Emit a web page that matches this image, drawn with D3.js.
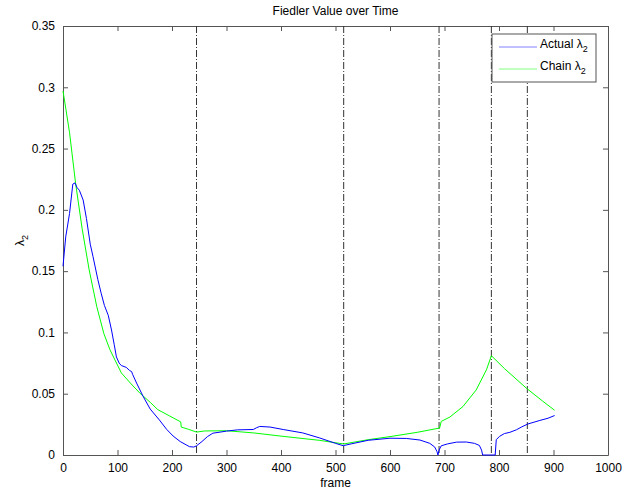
<!DOCTYPE html>
<html lang="en">
<head>
  <meta charset="UTF-8">
  <title>Fiedler Value over Time</title>
  <script src="https://d3js.org/d3.v7.min.js"></script>
  <style>
    body {
      margin: 0;
      background: #fff;
      font-family: "Liberation Sans", Arial, sans-serif;
    }
    svg text {
      font-size: 12px;
      fill: #000;
    }
  </style>
</head>
<body>
<div id="chart"></div>

<script>
  // Actual lambda_2 (blue)
  const actualFrames = [0, 5, 12, 18, 22, 26, 30, 37, 43, 50, 55, 64, 70, 76, 83, 89, 94, 98, 103, 107,
    116, 122, 126, 128, 135, 147, 160, 177, 190, 202, 215, 232, 240, 245, 255, 265, 275, 290, 300, 320,
    349, 355, 361, 380, 404, 440, 471, 500, 514, 530, 560, 600, 630, 655, 673, 682, 686, 688, 690, 694,
    705, 722, 740, 755, 764, 768, 770, 780, 793, 795, 801, 810, 820, 832, 842, 853, 875, 890, 902];
  const actualValues = [0.154, 0.178, 0.197, 0.221, 0.222, 0.218, 0.216, 0.208, 0.193, 0.172, 0.162, 0.143, 0.132, 0.122, 0.114, 0.102, 0.09, 0.08, 0.075, 0.073,
    0.0715, 0.069, 0.068, 0.0655, 0.0587, 0.0478, 0.0375, 0.0285, 0.021, 0.0155, 0.011, 0.0068, 0.0065, 0.0075, 0.011, 0.015, 0.0178, 0.0188, 0.0195, 0.0205,
    0.0208, 0.0222, 0.0233, 0.0228, 0.0208, 0.018, 0.0139, 0.0095, 0.0076, 0.0092, 0.012, 0.0137, 0.0135, 0.0122, 0.0095, 0.0065, 0.003, 0, 0.004, 0.0075,
    0.009, 0.0105, 0.0106, 0.0095, 0.0078, 0.004, 0, 0, 0, 0.0125, 0.0152, 0.0175, 0.0185, 0.0206, 0.023, 0.0253, 0.0282, 0.030, 0.0322];

  // Chain lambda_2 (green)
  const chainFrames = [0, 5, 12, 23, 35, 48, 62, 75, 86, 107, 125, 141, 160, 174, 195, 216, 217, 230, 245, 260,
    300, 350, 404, 470, 515, 560, 600, 650, 691, 694, 710, 734, 758, 777, 786, 810, 850, 880, 902];
  const chainValues = [0.297, 0.283, 0.263, 0.222, 0.185, 0.151, 0.121, 0.099, 0.086, 0.067, 0.058, 0.0505, 0.043, 0.037, 0.032, 0.027, 0.0228, 0.021, 0.0187, 0.0196,
    0.0198, 0.018, 0.0152, 0.012, 0.009, 0.0125, 0.015, 0.0185, 0.022, 0.0274, 0.031, 0.0396, 0.053, 0.0695, 0.081, 0.0705, 0.0546, 0.044, 0.0365];

  // dash-dot markers
  const eventFrames = [245, 515, 690, 786, 852];

  const xTicks = [0, 100, 200, 300, 400, 500, 600, 700, 800, 900, 1000];
  const yTicks = [0, 0.05, 0.1, 0.15, 0.2, 0.25, 0.3, 0.35];
  const yTickLabels = ["0", "0.05", "0.1", "0.15", "0.2", "0.25", "0.3", "0.35"];

  const margin = {top: 26, right: 26, bottom: 36, left: 63},
        width = 634 - margin.left - margin.right,
        height = 491 - margin.top - margin.bottom;

  const svg = d3.select("#chart")
                .append("svg")
                .attr("width", 634)
                .attr("height", 491)
                .append("g")
                .attr("transform", `translate(${margin.left},${margin.top})`);

  const x = d3.scaleLinear().domain([0, 1000]).range([0, width]);
  const y = d3.scaleLinear().domain([0, 0.35]).range([height, 0]);

  const axisColor = "#555";

  // axes with inward ticks on all four sides
  const xBottom = svg.append("g")
     .attr("transform", `translate(0,${height})`)
     .call(d3.axisBottom(x).tickValues(xTicks).tickSizeInner(-5).tickSizeOuter(0).tickPadding(8)
             .tickFormat(d3.format("d")));
  const xTop = svg.append("g")
     .call(d3.axisTop(x).tickValues(xTicks).tickSizeInner(-5).tickSizeOuter(0).tickFormat(""));
  const yLeft = svg.append("g")
     .call(d3.axisLeft(y).tickValues(yTicks).tickSizeInner(-5).tickSizeOuter(0).tickPadding(8)
             .tickFormat((d, i) => yTickLabels[i]));
  const yRight = svg.append("g")
     .attr("transform", `translate(${width},0)`)
     .call(d3.axisRight(y).tickValues(yTicks).tickSizeInner(-5).tickSizeOuter(0).tickFormat(""));

  [xBottom, xTop, yLeft, yRight].forEach(g => {
    g.selectAll("path, line").attr("stroke", axisColor);
    g.selectAll("text").style("font-size", "12px").style("font-family", "'Liberation Sans', Arial, sans-serif").attr("fill", "#000");
  });

  // event lines
  svg.selectAll("line.event")
     .data(eventFrames)
     .enter()
     .append("line")
     .attr("class", "event")
     .attr("x1", d => x(d))
     .attr("x2", d => x(d))
     .attr("y1", 0)
     .attr("y2", height)
     .attr("stroke", "#333")
     .attr("stroke-width", 1)
     .attr("stroke-dasharray", "7,2,1,2");

  const line = d3.line()
                 .x(d => x(d[0]))
                 .y(d => y(d[1]));

  const actual = actualFrames.map((f, i) => [f, actualValues[i]]);
  const chain = chainFrames.map((f, i) => [f, chainValues[i]]);

  svg.append("path")
     .datum(chain)
     .attr("fill", "none")
     .attr("stroke", "#00ff00")
     .attr("stroke-width", 1)
     .attr("d", line);

  svg.append("path")
     .datum(actual)
     .attr("fill", "none")
     .attr("stroke", "#0000ff")
     .attr("stroke-width", 1)
     .attr("d", line);

  // Title
  svg.append("text")
     .attr("x", width / 2)
     .attr("y", -11)
     .attr("text-anchor", "middle")
     .text("Fiedler Value over Time");

  // X label
  svg.append("text")
     .attr("x", width / 2)
     .attr("y", height + 32)
     .attr("text-anchor", "middle")
     .text("frame");

  // Y label
  const yLab = svg.append("text")
     .attr("transform", `translate(-39,${height / 2}) rotate(-90)`)
     .attr("text-anchor", "middle");
  yLab.append("tspan").text("λ");
  yLab.append("tspan").attr("dy", 4).style("font-size", "9px").text("2");

  // Legend
  const legend = svg.append("g")
                    .attr("transform", `translate(${492 - margin.left}, ${34 - margin.top})`);

  legend.append("rect")
        .attr("width", 104)
        .attr("height", 48)
        .attr("fill", "#fff")
        .attr("stroke", axisColor);

  const legendItems = [
    {label: "Actual", color: "#8080ff"},
    {label: "Chain", color: "#80ff80"}
  ];

  legendItems.forEach((d, i) => {
    const yy = 13 + i * 22;
    legend.append("line")
          .attr("x1", 7)
          .attr("x2", 45)
          .attr("y1", yy)
          .attr("y2", yy)
          .attr("stroke", d.color)
          .attr("stroke-width", 1);
    const t = legend.append("text")
          .attr("x", 48)
          .attr("y", yy + 1);
    t.append("tspan").text(d.label + " λ");
    t.append("tspan").attr("dy", 4).style("font-size", "9px").text("2");
  });
</script>
</body>
</html>
